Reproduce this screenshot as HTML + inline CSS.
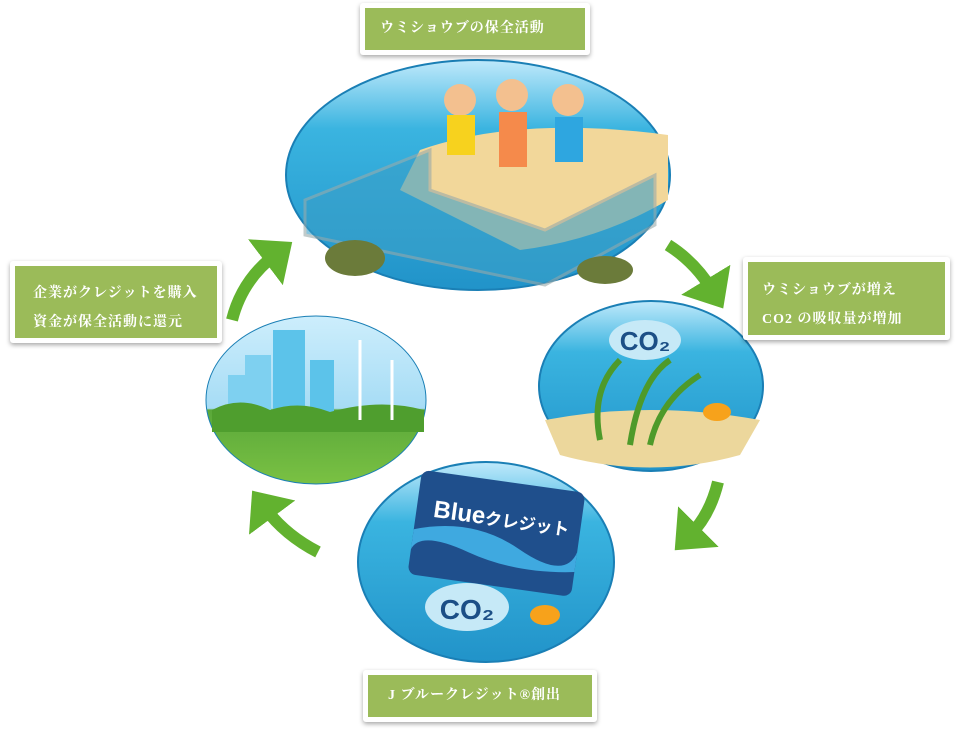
<!DOCTYPE html>
<html><head><meta charset="utf-8"><style>
body{margin:0;width:960px;height:734px;background:#fff;overflow:hidden;position:relative;font-family:"Liberation Serif","Noto Serif CJK SC",serif}
.box{position:absolute;background:#fff;box-shadow:0 2px 5px rgba(0,0,0,.35);border-radius:3px}
.box div{position:absolute;left:5px;top:5px;right:5px;bottom:5px;background:#9bbb59;color:#fff;font-size:14px;font-weight:bold;letter-spacing:1px}
svg{position:absolute;left:0;top:0}
</style></head><body>
<svg width="960" height="734">
<defs>
<linearGradient id="sea" x1="0" y1="0" x2="0" y2="1"><stop offset="0" stop-color="#bfe9fb"/><stop offset=".3" stop-color="#3ab4e0"/><stop offset="1" stop-color="#2193c9"/></linearGradient>
<linearGradient id="sky" x1="0" y1="0" x2="0" y2="1"><stop offset="0" stop-color="#cdeefc"/><stop offset=".55" stop-color="#a6dcf5"/><stop offset=".56" stop-color="#5aa83a"/><stop offset="1" stop-color="#7ac143"/></linearGradient>
<marker id="ah" markerWidth="4" markerHeight="6" refX="1" refY="3" orient="auto" markerUnits="strokeWidth"><path d="M0,0.6 L2.8,3 L0,5.4z" fill="#62b22f"/></marker>
</defs>
<ellipse cx="478" cy="175" rx="192" ry="115" fill="url(#sea)" stroke="#1a7fb5" stroke-width="2"/>
<path d="M420 150 Q520 115 668 135 L668 200 Q600 240 520 250 L400 190 Z" fill="#f2d79a"/>
<path d="M305 200 L430 150 L430 190 L545 230 L655 175 L655 225 L545 285 L305 235Z" fill="#3aa0c9" opacity=".6" stroke="#9aa" stroke-width="3"/>
<circle cx="460" cy="100" r="16" fill="#f3c08f"/><rect x="447" y="115" width="28" height="40" fill="#f7d21e"/>
<circle cx="512" cy="95" r="16" fill="#f3c08f"/><rect x="499" y="112" width="28" height="55" fill="#f58a4b"/>
<circle cx="568" cy="100" r="16" fill="#f3c08f"/><rect x="555" y="117" width="28" height="45" fill="#2ea6e0"/>
<ellipse cx="355" cy="258" rx="30" ry="18" fill="#6b7b3a"/>
<ellipse cx="605" cy="270" rx="28" ry="14" fill="#6b7b3a"/>
<ellipse cx="651" cy="386" rx="112" ry="85" fill="url(#sea)" stroke="#1a7fb5" stroke-width="2"/>
<path d="M545 420 Q650 400 760 420 L740 455 Q650 480 560 455Z" fill="#ecd79c"/>
<path d="M600 440 Q590 390 620 360 M630 445 Q640 380 670 360 M650 445 Q660 400 700 375" stroke="#4e9a2a" stroke-width="6" fill="none"/>
<ellipse cx="645" cy="340" rx="36" ry="20" fill="#c6e9f7"/><text x="645" y="350" font-family="Liberation Sans" font-size="26" font-weight="bold" fill="#1c4f86" text-anchor="middle">CO₂</text>
<ellipse cx="717" cy="412" rx="14" ry="9" fill="#f7a21b"/>
<ellipse cx="486" cy="562" rx="128" ry="100" fill="url(#sea)" stroke="#1a7fb5" stroke-width="2"/>
<g transform="rotate(8 490 540)"><rect x="413" y="480" width="165" height="105" rx="8" fill="#1f4f8c"/>
<path d="M413 540 Q470 520 520 545 T578 540 L578 560 Q520 570 470 555 T413 560Z" fill="#3fa9e0"/>
<text x="430" y="525" font-family="Liberation Sans" font-size="24" font-weight="bold" fill="#fff">Blue<tspan font-size="17" font-family="Noto Sans CJK JP">クレジット</tspan></text></g>
<ellipse cx="467" cy="607" rx="42" ry="24" fill="#c6e9f7"/><text x="467" y="619" font-family="Liberation Sans" font-size="28" font-weight="bold" fill="#1c4f86" text-anchor="middle">CO₂</text>
<ellipse cx="545" cy="615" rx="15" ry="10" fill="#f7a21b"/>
<ellipse cx="316" cy="400" rx="110" ry="84" fill="url(#sky)" stroke="#1a7fb5" stroke-width="1"/>
<rect x="273" y="330" width="32" height="90" fill="#5cc3ea"/><rect x="245" y="355" width="26" height="60" fill="#7ed0f0"/><rect x="310" y="360" width="24" height="55" fill="#5cc3ea"/><rect x="228" y="375" width="20" height="40" fill="#7ed0f0"/>
<path d="M212 410 Q240 395 270 410 Q300 400 330 412 Q380 398 424 410 L424 432 L212 432Z" fill="#4f9e2e"/>
<line x1="360" y1="340" x2="360" y2="420" stroke="#fff" stroke-width="3"/><line x1="392" y1="360" x2="392" y2="420" stroke="#fff" stroke-width="3"/>
<path d="M232 320 Q242 280 275 255" stroke="#62b22f" stroke-width="12" fill="none" marker-end="url(#ah)"/>
<path d="M668 245 Q695 262 712 290" stroke="#62b22f" stroke-width="12" fill="none" marker-end="url(#ah)"/>
<path d="M718 482 Q710 515 690 535" stroke="#62b22f" stroke-width="12" fill="none" marker-end="url(#ah)"/>
<path d="M318 552 Q285 535 265 508" stroke="#62b22f" stroke-width="12" fill="none" marker-end="url(#ah)"/>
</svg>
<div class="box" style="left:360px;top:3px;width:230px;height:52px"><div style="line-height:42px;padding-left:15px">ウミショウブの保全活動</div></div>
<div class="box" style="left:10px;top:261px;width:212px;height:82px"><div style="padding:13px 0 0 18px;line-height:29px">企業がクレジットを購入<br>資金が保全活動に還元</div></div>
<div class="box" style="left:743px;top:257px;width:207px;height:83px"><div style="padding:14px 0 0 14px;line-height:29px">ウミショウブが増え<br>CO2 の吸収量が増加</div></div>
<div class="box" style="left:363px;top:670px;width:234px;height:52px"><div style="line-height:42px;padding-left:20px">J ブルークレジット®創出</div></div>
</body></html>
